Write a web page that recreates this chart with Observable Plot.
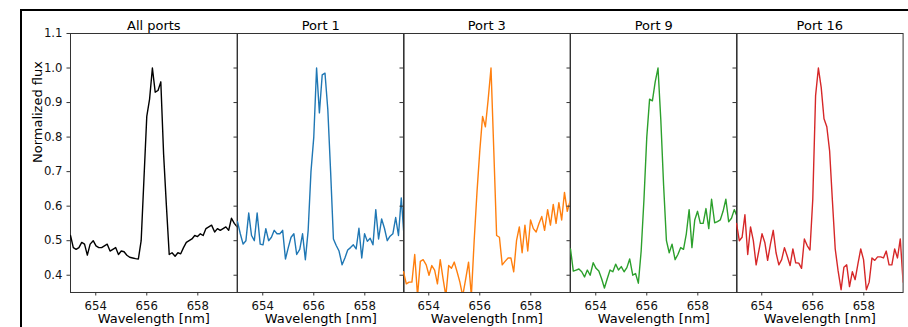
<!DOCTYPE html>
<html><head><meta charset="utf-8">
<script src="https://cdn.jsdelivr.net/npm/d3@7"></script>
<script src="https://cdn.jsdelivr.net/npm/@observablehq/plot@0.6"></script>
<style>
html,body{margin:0;padding:0;background:#fff;}
#fig{position:relative;width:908px;height:327px;overflow:hidden;font-family:"DejaVu Sans",sans-serif;}
#border{position:absolute;left:19.5px;top:9px;width:900px;height:400px;border-top:2px solid #000;border-left:2px solid #000;}
.panel{position:absolute;top:0;}
</style></head><body><div id="fig"><div id="border"></div></div>
<script>
const wavelength = [653.01,653.12,653.23,653.34,653.45,653.56,653.67,653.78,653.90,654.01,
654.12,654.23,654.34,654.45,654.56,654.67,654.78,654.89,655.00,655.11,
655.22,655.33,655.45,655.56,655.67,655.78,655.89,656.00,656.11,656.22,
656.33,656.44,656.55,656.66,656.77,656.88,656.99,657.11,657.22,657.33,
657.44,657.55,657.66,657.77,657.88,657.99,658.10,658.21,658.32,658.43,
658.54,658.66,658.77,658.88,658.99,659.10,659.21,659.32,659.43,659.54];

const allPorts = [0.515,0.48,0.475,0.48,0.495,0.49,0.458,0.49,0.50,0.485,
0.48,0.48,0.485,0.49,0.47,0.475,0.48,0.46,0.47,0.468,
0.458,0.452,0.45,0.448,0.447,0.50,0.68,0.86,0.91,1.0,
0.93,0.935,0.96,0.75,0.60,0.46,0.465,0.455,0.465,0.462,
0.48,0.495,0.50,0.505,0.515,0.512,0.52,0.515,0.535,0.54,
0.545,0.525,0.535,0.53,0.535,0.54,0.53,0.565,0.55,0.54];

const port1 = [0.555,0.52,0.49,0.50,0.58,0.515,0.50,0.58,0.49,0.488,
0.535,0.50,0.51,0.53,0.52,0.52,0.53,0.447,0.48,0.51,
0.52,0.46,0.475,0.52,0.445,0.53,0.70,0.80,1.0,0.87,
0.98,0.985,0.88,0.70,0.505,0.486,0.47,0.43,0.45,0.473,
0.48,0.488,0.476,0.536,0.45,0.52,0.498,0.507,0.488,0.59,
0.505,0.563,0.536,0.50,0.513,0.52,0.567,0.515,0.624,0.51];

const port3 = [0.41,0.375,0.38,0.38,0.46,0.34,0.44,0.445,0.43,0.40,
0.428,0.415,0.375,0.445,0.39,0.34,0.428,0.42,0.438,0.41,
0.38,0.34,0.39,0.438,0.34,0.50,0.64,0.76,0.86,0.83,
0.91,1.0,0.76,0.515,0.51,0.43,0.44,0.45,0.45,0.41,
0.50,0.54,0.465,0.545,0.47,0.56,0.535,0.525,0.55,0.57,
0.53,0.59,0.545,0.605,0.55,0.61,0.56,0.64,0.585,0.615];

const port9 = [0.476,0.412,0.415,0.418,0.41,0.395,0.415,0.40,0.436,0.42,
0.412,0.39,0.363,0.39,0.415,0.41,0.432,0.415,0.425,0.41,
0.422,0.447,0.40,0.405,0.377,0.47,0.62,0.80,0.91,0.905,
0.96,1.0,0.85,0.66,0.50,0.465,0.49,0.445,0.46,0.48,
0.475,0.52,0.59,0.48,0.56,0.585,0.55,0.55,0.593,0.535,
0.62,0.552,0.555,0.56,0.585,0.62,0.555,0.565,0.59,0.57];

const port16 = [0.55,0.50,0.51,0.575,0.46,0.54,0.50,0.43,0.476,0.52,
0.495,0.443,0.49,0.53,0.465,0.43,0.445,0.48,0.455,0.428,
0.476,0.436,0.435,0.42,0.505,0.486,0.473,0.62,0.92,1.0,
0.944,0.853,0.83,0.76,0.615,0.476,0.414,0.358,0.423,0.43,
0.367,0.41,0.387,0.433,0.476,0.445,0.358,0.38,0.45,0.443,
0.453,0.453,0.45,0.47,0.43,0.43,0.476,0.45,0.505,0.38];

const panelTitles = ["All ports", "Port 1", "Port 3", "Port 9", "Port 16"];
const panelSeries = [allPorts, port1, port3, port9, port16];
const panelColors = ["#000000", "#1f77b4", "#ff7f0e", "#2ca02c", "#d62728"];
const yTicks = [0.4, 0.5, 0.6, 0.7, 0.8, 0.9, 1.0, 1.1];
const xTicks = [654, 656, 658];
const xLabel = "Wavelength [nm]";
const yLabel = "Normalized flux";

const fig = document.getElementById("fig");
const plotLeft = 70, plotWidth = 166.6, mRight = 6;
panelSeries.forEach((series, k) => {
  const rows = wavelength.map((w, i) => ({w, f: series[i]}));
  const marks = [
    Plot.frame({stroke: "#333", strokeWidth: 1}),
    Plot.line(rows, {x: "w", y: "f", stroke: panelColors[k], strokeWidth: 1.4, clip: true}),
    Plot.axisY({ticks: yTicks, tickSize: 3.5, tickPadding: 4.5, fontSize: 11.7, fill: "#111",
      tickFormat: k === 0 ? (d => d.toFixed(1)) : (() => ""), label: null, stroke: "#333"}),
    Plot.axisX({ticks: xTicks, tickSize: 3.5, tickPadding: 5.5, fontSize: 11.7, fill: "#111", tickFormat: d => String(d), label: null, stroke: "#333"}),
    Plot.text([panelTitles[k]], {frameAnchor: "top", dy: -13, text: d => d, fontSize: 13, fill: "#000"}),
    Plot.text([xLabel], {frameAnchor: "bottom", dy: 31, text: d => d, fontSize: 13, fill: "#000"})
  ];
  if (k === 0) marks.push(Plot.text([yLabel], {frameAnchor: "left", dx: -33, rotate: -90, text: d => d, fontSize: 13, fill: "#000"}));
  const svg = Plot.plot({
    width: plotLeft + plotWidth + mRight,
    height: 327,
    marginLeft: plotLeft, marginRight: mRight, marginTop: 33, marginBottom: 35,
    style: "background: transparent; overflow: visible; font-family: 'DejaVu Sans', sans-serif; color: #222;",
    x: {domain: [653.01, 659.54]},
    y: {domain: [0.35, 1.1]},
    marks
  });
  svg.classList.add("panel");
  svg.style.left = (plotWidth * k) + "px";
  fig.appendChild(svg);
});
</script>
</body></html>
